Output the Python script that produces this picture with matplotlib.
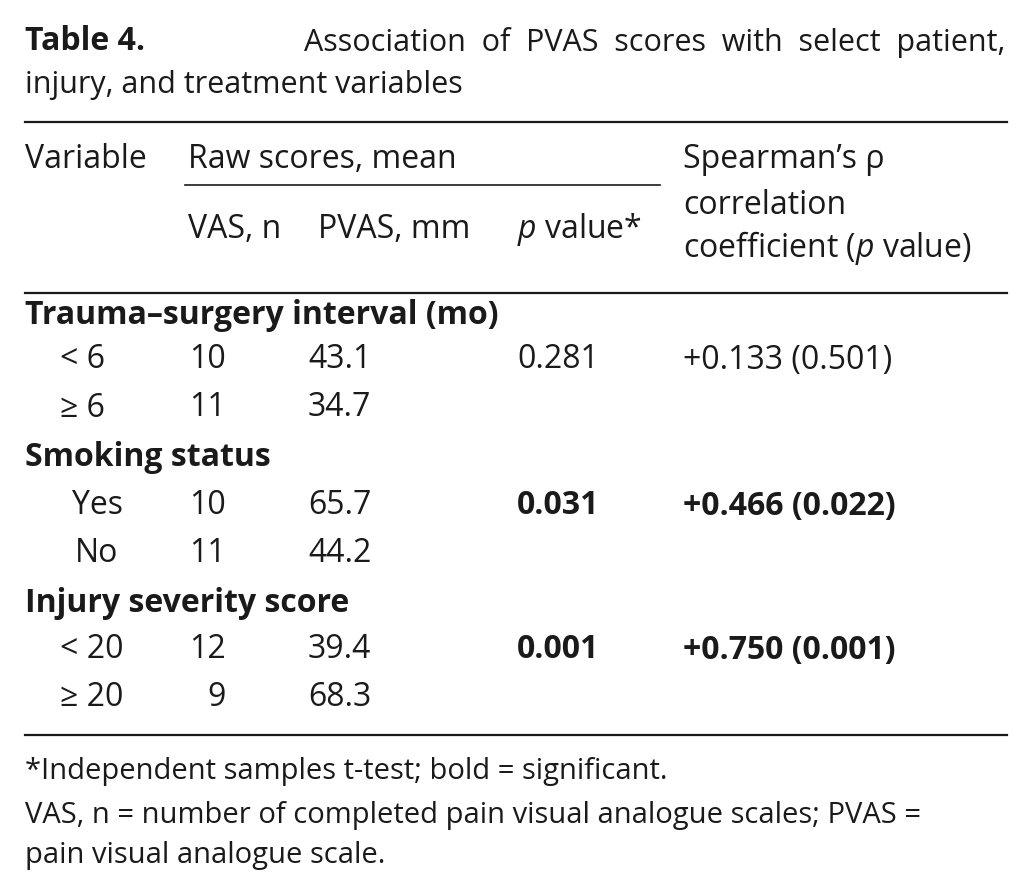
import matplotlib
matplotlib.use("Agg")
import matplotlib.pyplot as plt
from matplotlib.lines import Line2D

W, H = 1033, 894
fig = plt.figure(figsize=(W/100, H/100), dpi=100)
FS = 23
FAM = ['Open Sans', 'DejaVu Sans']
plt.rcParams['mathtext.fontset'] = 'custom'
plt.rcParams['mathtext.it'] = 'Open Sans:italic'
plt.rcParams['mathtext.rm'] = 'Open Sans'

def T(x, y, s, ha='left', bold=False, size=FS, **kw):
    fig.text(x/W, 1-y/H, s, ha=ha, va='center', fontsize=size,
             fontweight='bold' if bold else 'normal', family=FAM, color='#1a1a1a', **kw)

def L(x0, x1, y, lw=1.5):
    fig.add_artist(Line2D([x0/W, x1/W], [1-y/H, 1-y/H], color='#1a1a1a', lw=lw))

groups = ["Trauma–surgery interval (mo)", "Smoking status", "Injury severity score"]
levels = [["< 6", "≥ 6"], ["Yes", "No"], ["< 20", "≥ 20"]]
level_x = [[60, 60], [72, 75], [60, 60]]
vas_n = [[10, 11], [10, 11], [12, 9]]
pvas = [["43.1", "34.7"], ["65.7", "44.2"], ["39.4", "68.3"]]
pvals = ["0.281", "0.031", "0.001"]
spear = ["+0.133 (0.501)", "+0.466 (0.022)", "+0.750 (0.001)"]
signif = [False, True, True]

# Title
T(25, 42, "Table 4.", bold=True)
T(1005, 42, "Association  of  PVAS  scores  with  select  patient,", ha='right', size=22)
T(25, 85, "injury, and treatment variables", size=22)

L(25, 1007, 122, 1.6)
T(25, 160, "Variable")
T(188, 160, "Raw scores, mean")
L(185, 660, 185, 1.2)
T(188, 230, "VAS, n")
T(318, 230, "PVAS, mm")
T(517, 230, r"$p$ value*")
T(683, 160, "Spearman’s ρ")
T(683, 205, "correlation")
T(683, 248, r"coefficient ($p$ value)")
L(25, 1007, 293, 1.6)

ys = [(315, 360, 408), (458, 506, 553), (603, 650, 697)]
for g in range(3):
    gy, y1, y2 = ys[g]
    T(25, gy, groups[g], bold=True)
    for k, y in enumerate((y1, y2)):
        T(level_x[g][k], y, levels[g][k])
        T(226, y, str(vas_n[g][k]), ha='right')
        T(308, y, pvas[g][k])
    T(517, y1, pvals[g], bold=signif[g])
    T(683, y1, spear[g], bold=signif[g])

L(25, 1007, 735, 1.6)
T(25, 772, "*Independent samples t-test; bold = significant.", size=21)
T(25, 815, "VAS, n = number of completed pain visual analogue scales; PVAS =", size=21)
T(25, 855, "pain visual analogue scale.", size=21)

fig.savefig("out.png", dpi=100)
